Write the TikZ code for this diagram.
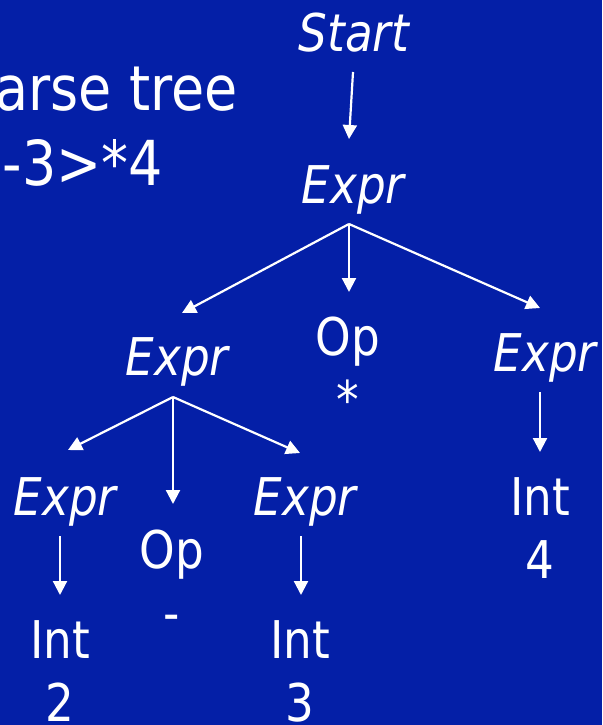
\documentclass[tikz,border=0pt]{standalone}
\usepackage{fontspec}
\setmainfont{DejaVu Sans}[FakeStretch=0.87]
\usetikzlibrary{arrows.meta}
\definecolor{bg}{RGB}{4,31,167}
\begin{document}
\begin{tikzpicture}[x=1pt,y=-1pt,
  lbl/.style={text=white, inner sep=0pt, anchor=base, align=center, font=\fontsize{52}{63}\selectfont},
  ilbl/.style={lbl, font=\fontsize{52}{63}\selectfont\itshape},
  ttl/.style={text=white, inner sep=0pt, anchor=base east, font=\fontsize{62}{74}\selectfont},
  arr/.style={draw=white, line width=2.2pt, -{Triangle[length=14pt,width=14pt]}}]
\fill[bg] (0,0) rectangle (602,725);
\useasboundingbox (0,0) rectangle (602,725);
% title (cut at the left edge)
\node[ttl] (t1) at (238,110) {arse tree};
\node[ttl] (t2) at (163,185) {-3>*4};
% tree nodes (two-line nodes are placed by the baseline of their last line)
\node[ilbl] (start) at (354,52) {Start};
\node[ilbl] (e0) at (353,203) {Expr};
\node[lbl] (op1) at (348,418) {Op\\*};
\node[ilbl] (e1) at (177,375) {Expr};
\node[ilbl] (e2) at (545,371) {Expr};
\node[ilbl] (e3) at (65,515) {Expr};
\node[lbl] (op2) at (172,631) {Op\\-};
\node[ilbl] (e4) at (305,515) {Expr};
\node[lbl] (int4) at (540,578) {Int\\4};
\node[lbl] (int2) at (60,721) {Int\\2};
\node[lbl] (int3) at (300,721) {Int\\3};
% connector ends
\coordinate (s0) at (353,72);
\coordinate (p0) at (349,139);
\coordinate (b0) at (349,224);
\coordinate (p1) at (182,313);
\coordinate (pop1) at (349,292);
\coordinate (p2) at (540,308);
\coordinate (b1) at (173,397);
\coordinate (p3) at (68,450);
\coordinate (pop2) at (173,504);
\coordinate (p4) at (300,453);
\coordinate (s2) at (540,392);
\coordinate (p5) at (540,452);
\coordinate (s3) at (60,536);
\coordinate (p6) at (60,595);
\coordinate (s4) at (301,536);
\coordinate (p7) at (301,595);
% connectors
\draw[arr] (s0) -- (p0);
\draw[arr] (b0) -- (p1);
\draw[arr] (b0) -- (pop1);
\draw[arr] (b0) -- (p2);
\draw[arr] (b1) -- (p3);
\draw[arr] (b1) -- (pop2);
\draw[arr] (b1) -- (p4);
\draw[arr] (s2) -- (p5);
\draw[arr] (s3) -- (p6);
\draw[arr] (s4) -- (p7);
\end{tikzpicture}
\end{document}
